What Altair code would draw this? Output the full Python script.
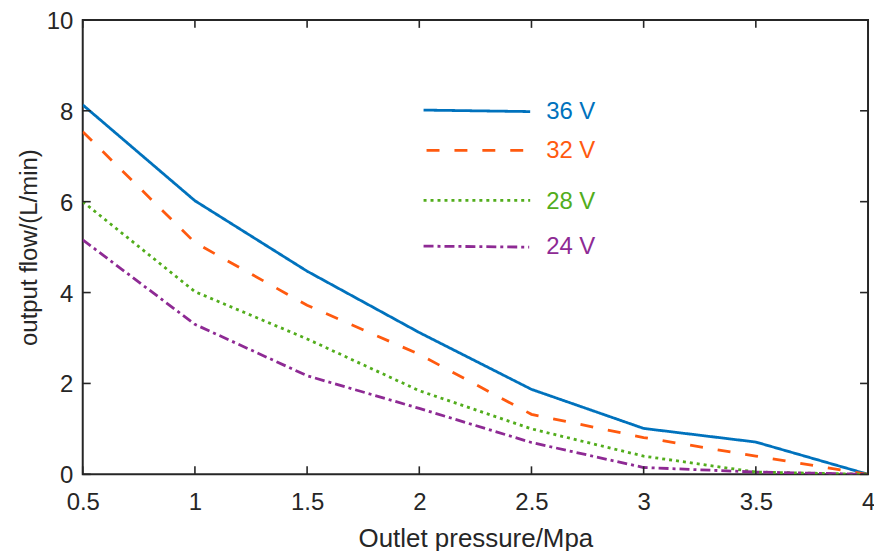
import altair as alt
import pandas as pd

pressure = [0.5, 1.0, 1.5, 2.0, 2.5, 3.0, 3.5, 4.0]
flow_36 = [8.13, 6.02, 4.47, 3.12, 1.87, 1.01, 0.71, 0.0]
flow_32 = [7.54, 5.10, 3.72, 2.64, 1.32, 0.81, 0.40, 0.0]
flow_28 = [6.00, 4.02, 2.98, 1.84, 1.00, 0.40, 0.05, 0.0]
flow_24 = [5.16, 3.30, 2.17, 1.45, 0.70, 0.15, 0.05, 0.0]
series_names = ["36 V", "32 V", "28 V", "24 V"]
x_ticks = [0.5, 1, 1.5, 2, 2.5, 3, 3.5, 4]
y_ticks = [0, 2, 4, 6, 8, 10]

colors = ["#0072BD", "#FF5A0F", "#52AD1C", "#8E2A94"]
dashes = [[1, 0], [13, 15], [3, 4], [10, 4, 3, 4]]

W, H = 788, 456
FONT = "Liberation Sans"
TXT = "#262626"

rows = []
for name, vals in zip(series_names, [flow_36, flow_32, flow_28, flow_24]):
    for p, v in zip(pressure, vals):
        rows.append({"series": name, "pressure": p, "flow": v})
df = pd.DataFrame(rows)

xscale = alt.Scale(domain=[0.5, 4], nice=False, zero=False)
yscale = alt.Scale(domain=[0, 10], nice=False)

xaxis = alt.Axis(title="Outlet pressure/Mpa", values=x_ticks, format=".1~f",
                 domain=False, ticks=False, grid=False, labelPadding=16,
                 titlePadding=11, labelFontSize=24, titleFontSize=26,
                 labelFont=FONT, titleFont=FONT, labelColor=TXT, titleColor=TXT,
                 titleFontWeight="normal", labelFlush=False)
yaxis = alt.Axis(title="output flow/(L/min)", values=y_ticks, format="d",
                 domain=False, ticks=False, grid=False, labelPadding=10,
                 labelBaseline="alphabetic", labelOffset=8.5,
                 titlePadding=5, labelFontSize=24, titleFontSize=24,
                 labelFont=FONT, titleFont=FONT, labelColor=TXT, titleColor=TXT,
                 titleFontWeight="normal", labelFlush=False)

lines = alt.Chart(df).mark_line(strokeWidth=2.8, strokeCap="butt", clip=True).encode(
    x=alt.X("pressure:Q", scale=xscale, axis=xaxis),
    y=alt.Y("flow:Q", scale=yscale, axis=yaxis),
    color=alt.Color("series:N", scale=alt.Scale(domain=series_names, range=colors), legend=None),
    strokeDash=alt.StrokeDash("series:N", scale=alt.Scale(domain=series_names, range=dashes), legend=None),
    detail="series:N",
)

tick_x = pd.DataFrame({"t": x_ticks})
tick_y = pd.DataFrame({"t": y_ticks})
tk = dict(color=TXT, strokeWidth=1.6)
bottom_ticks = alt.Chart(tick_x).mark_rule(**tk).encode(
    x=alt.X("t:Q", scale=xscale, axis=xaxis), y=alt.value(H), y2=alt.value(H - 8))
top_ticks = alt.Chart(tick_x).mark_rule(**tk).encode(
    x=alt.X("t:Q", scale=xscale, axis=xaxis), y=alt.value(0), y2=alt.value(8))
left_ticks = alt.Chart(tick_y).mark_rule(**tk).encode(
    y=alt.Y("t:Q", scale=yscale, axis=yaxis), x=alt.value(0), x2=alt.value(8))
right_ticks = alt.Chart(tick_y).mark_rule(**tk).encode(
    y=alt.Y("t:Q", scale=yscale, axis=yaxis), x=alt.value(W), x2=alt.value(W - 8))

# manual legend (pixel positions inside the plot area)
leg_line_y = [(90.5, 92), (131, 131), (181, 181), (227, 228)]
leg_line_x = [(342, 449), (345, 446), (342, 449), (342, 448)]
leg_text_y = [92, 132, 183, 228]
legend_layers = []
for i, name in enumerate(series_names):
    ldf = pd.DataFrame({"label": [name]})
    legend_layers.append(
        alt.Chart(ldf).mark_rule(strokeWidth=2.8, strokeCap="butt", color=colors[i],
                                 strokeDash=dashes[i]).encode(
            x=alt.value(leg_line_x[i][0]), x2=alt.value(leg_line_x[i][1]),
            y=alt.value(leg_line_y[i][0]), y2=alt.value(leg_line_y[i][1]))
    )
    legend_layers.append(
        alt.Chart(ldf).mark_text(align="left", baseline="middle", fontSize=24, font=FONT,
                                 color=colors[i]).encode(
            x=alt.value(465), y=alt.value(leg_text_y[i]), text="label:N")
    )

chart = alt.layer(lines, bottom_ticks, top_ticks, left_ticks, right_ticks, *legend_layers).properties(
    width=W, height=H,
    padding={"left": 75, "top": 11, "right": 6, "bottom": 76},
    autosize=alt.AutoSizeParams(type="none"),
    background="white",
).configure_view(stroke=TXT, strokeWidth=2)

chart.save("out.html", embed_options={"renderer": "svg", "actions": False})
